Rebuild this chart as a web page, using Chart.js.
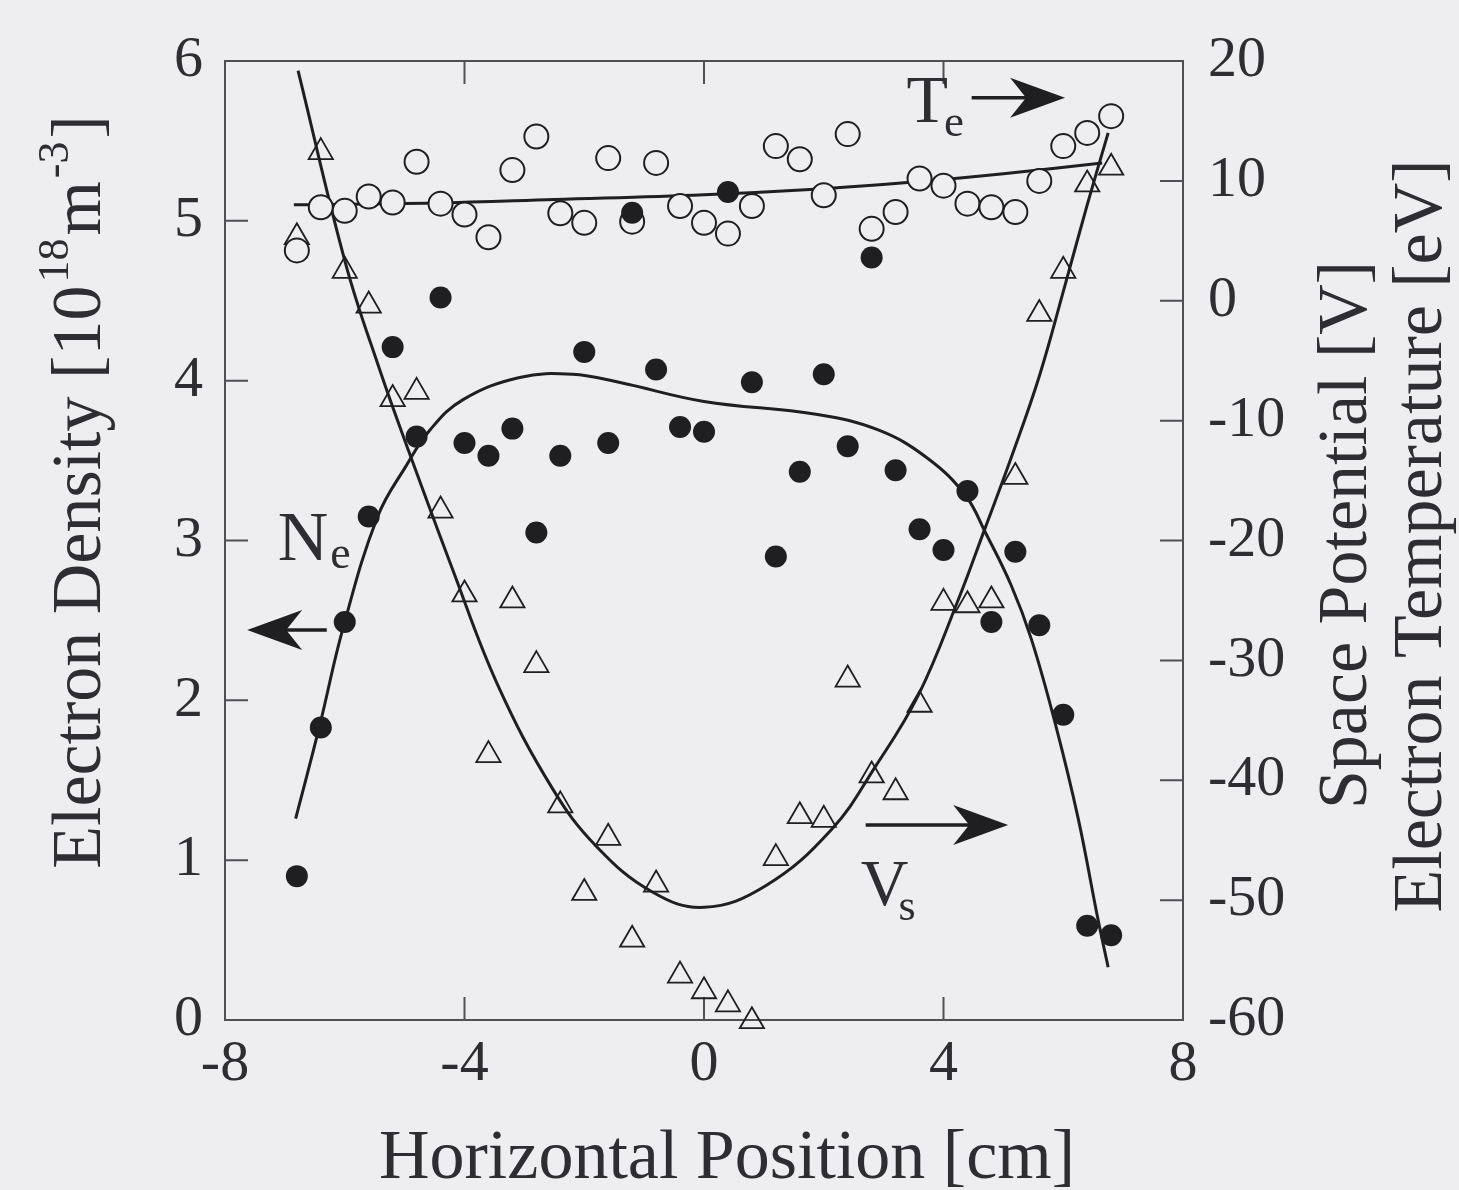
<!DOCTYPE html>
<html>
<head>
<meta charset="utf-8">
<title>Horizontal profiles</title>
<script src="https://cdn.jsdelivr.net/npm/chart.js@4.4.1/dist/chart.umd.min.js"></script>
<style>
html, body { margin: 0; padding: 0; background: #eeeef0; }
canvas { display: block; }
</style>
</head>
<body>
<canvas id="graphique" width="1459" height="1190"></canvas>
<script>
//measurement positions [cm]
var positions = [-6.8,-6.4,-6.0,-5.6,-5.2,-4.8,-4.4,-4.0,-3.6,-3.2,-2.8,-2.4,-2.0,-1.6,-1.2,-0.8,-0.4,0,
	0.4,0.8,1.2,1.6,2.0,2.4,2.8,3.2,3.6,4.0,4.4,4.8,5.2,5.6,6.0,6.4,6.8];

//electron density [10^18 m^-3] (filled circles, left axis)
var densite = [0.90,1.83,2.49,3.15,4.21,3.65,4.52,3.61,3.53,3.70,3.05,3.53,4.18,3.61,5.05,4.07,3.71,3.68,
	5.18,3.99,2.90,3.43,4.04,3.59,4.77,3.44,3.07,2.94,3.31,2.49,2.93,2.47,1.91,0.59,0.53];

//electron temperature [eV] (open circles, right axis)
var temperature = [4.2,7.8,7.5,8.7,8.2,11.6,8.1,7.2,5.3,10.9,13.7,7.3,6.5,11.9,6.6,11.5,7.9,6.5,
	5.6,7.9,12.9,11.8,8.8,13.9,6.0,7.4,10.2,9.6,8.1,7.8,7.4,10.0,12.9,14.0,15.4];

//space potential [V] (open triangles, right axis)
var potentiel = [5.3,12.4,2.5,-0.4,-8.2,-7.6,-17.5,-24.5,-37.9,-25.0,-30.4,-42.1,-49.4,-44.8,-53.3,-48.7,-56.3,-57.6,
	-58.7,-60.1,-46.5,-43.0,-43.3,-31.6,-39.6,-41.0,-33.7,-25.2,-25.4,-25.0,-14.7,-1.1,2.5,9.7,11.1];

//fitted curves
var ajustDensiteX = [-6.82,-6.42,-6.03,-5.45,-4.97,-4.58,-4.03,-3.08,-2.2,-1.42,0,1.87,2.92,3.75,4.37,4.70,5.13,5.47,5.87,6.25,6.58,6.75];
var ajustDensiteY = [1.26,1.84,2.45,3.15,3.47,3.69,3.88,4.02,4.04,3.99,3.87,3.79,3.69,3.51,3.28,3.05,2.72,2.38,1.85,1.26,0.63,0.33];

var ajustPotentielX = [-6.78,-5.98,-5.42,-4.95,-4.2,-3.45,-2.53,-1.8,-0.87,0,1.03,2.13,2.87,3.58,4.25,4.67,5.13,5.6,6.03,6.4,6.75];
var ajustPotentielY = [19.2,3.0,-5.7,-12.3,-22.4,-32.0,-40.7,-45.5,-49.3,-50.6,-48.8,-44.1,-38.8,-32.9,-24.9,-19.3,-13.1,-6.3,1.3,8.0,14.0];

var ajustTemperatureX = [-6.85,-4.5,-2.5,0,2.0,3.5,5.0,6.65];
var ajustTemperatureY = [8.0,8.15,8.45,8.85,9.35,9.9,10.6,11.5];

//axis ranges and steps
var axeX = {min: -8, max: 8, pas: 4};
var axeGauche = {min: 0, max: 6, pas: 1};
var axeDroite = {min: -60, max: 20, pas: 10};

//texts
var titreX = 'Horizontal Position [cm]';
var titreGauche = [['Electron Density [10', 0], ['18', 1], ['m', 0], ['-3', 1], [']', 0]];
var titreDroite1 = 'Space Potential [V]';
var titreDroite2 = 'Electron Temperature [eV]';

//curve labels and arrows (data coordinates, left axis)
var etiquettes = [
	{texte: 'T', indice: 'e', x: 3.38, y: 5.62, taille: 68, dx: -4, dy: 14},
	{texte: 'N', indice: 'e', x: -7.12, y: 2.88, taille: 70, dx: 2, dy: 8},
	{texte: 'V', indice: 's', x: 2.62, y: 0.72, taille: 66, dx: -10, dy: 15}
];
var fleches = [
	{de: 4.47, a: 6.03, y: 5.77},
	{de: -6.3, a: -7.63, y: 2.44},
	{de: 2.7, a: 5.08, y: 1.22}
];

var encre = '#1f1f22';
var texteCouleur = '#2e2e32';
var papier = '#eeeef0';
var police = '"Liberation Serif", "Times New Roman", serif';

function points(xs, ys){
	var tab = new Array(xs.length);
	for(let i = 0 ; i < xs.length ; i++){
		tab[i] = {x: xs[i], y: ys[i]};
	}
	return tab;
}

//arrow with a swept head, from x1 to x2 at height y (pixels)
function fleche(ctx, x1, x2, y){
	var sens = x2 > x1 ? 1 : -1;
	var longueur = 55, demi = 20, creux = 16;
	ctx.lineWidth = 3.5;
	ctx.beginPath();
	ctx.moveTo(x1, y);
	ctx.lineTo(x2 - sens*longueur*0.6, y);
	ctx.stroke();
	ctx.beginPath();
	ctx.moveTo(x2, y);
	ctx.lineTo(x2 - sens*longueur, y - demi);
	ctx.lineTo(x2 - sens*(longueur - creux), y);
	ctx.lineTo(x2 - sens*longueur, y + demi);
	ctx.closePath();
	ctx.fill();
}

var decor = {
	id: 'decor',
	beforeDraw: function(chart){
		var ctx = chart.ctx;
		ctx.save();
		ctx.fillStyle = papier;
		ctx.fillRect(0, 0, chart.width, chart.height);
		ctx.restore();
	},
	beforeDatasetsDraw: function(chart){
		var ctx = chart.ctx;
		var a = chart.chartArea;
		var sx = chart.scales.x, sy = chart.scales.y, sy2 = chart.scales.y2;
		var tick = 23;
		ctx.save();
		ctx.strokeStyle = '#505054';
		ctx.lineWidth = 2;
		ctx.strokeRect(a.left, a.top, a.right - a.left, a.bottom - a.top);
		ctx.beginPath();
		sx.ticks.forEach(function(t){
			if(t.value <= axeX.min || t.value >= axeX.max) return;
			var px = sx.getPixelForValue(t.value);
			ctx.moveTo(px, a.bottom); ctx.lineTo(px, a.bottom - tick);
			ctx.moveTo(px, a.top); ctx.lineTo(px, a.top + tick);
		});
		sy.ticks.forEach(function(t){
			if(t.value <= axeGauche.min || t.value >= axeGauche.max) return;
			var py = sy.getPixelForValue(t.value);
			ctx.moveTo(a.left, py); ctx.lineTo(a.left + tick, py);
		});
		sy2.ticks.forEach(function(t){
			if(t.value <= axeDroite.min || t.value >= axeDroite.max) return;
			var py = sy2.getPixelForValue(t.value);
			ctx.moveTo(a.right, py); ctx.lineTo(a.right - tick, py);
		});
		ctx.stroke();
		ctx.restore();
	},
	afterDraw: function(chart){
		var ctx = chart.ctx;
		var a = chart.chartArea;
		var sx = chart.scales.x, sy = chart.scales.y;
		ctx.save();
		ctx.fillStyle = texteCouleur;
		ctx.textBaseline = 'alphabetic';

		//bottom title
		ctx.font = '70px ' + police;
		ctx.textAlign = 'center';
		ctx.fillText(titreX, 727, 1178);

		//left title with superscripts
		ctx.save();
		ctx.translate(100, 492);
		ctx.rotate(-Math.PI/2);
		var total = 0;
		titreGauche.forEach(function(p){
			ctx.font = (p[1] ? '44px ' : '70px ') + police;
			total += ctx.measureText(p[0]).width + (p[1] ? 6 : 0);
		});
		var cx = -total/2;
		ctx.textAlign = 'left';
		titreGauche.forEach(function(p){
			ctx.font = (p[1] ? '44px ' : '70px ') + police;
			if(p[1]) cx += 3;
			ctx.fillText(p[0], cx, p[1] ? -32 : 0);
			cx += ctx.measureText(p[0]).width + (p[1] ? 3 : 0);
		});
		ctx.restore();

		//right titles
		ctx.font = '70px ' + police;
		ctx.textAlign = 'center';
		ctx.save();
		ctx.translate(1366, 535);
		ctx.rotate(-Math.PI/2);
		ctx.fillText(titreDroite1, 0, 0);
		ctx.restore();
		ctx.save();
		ctx.translate(1441, 536);
		ctx.rotate(-Math.PI/2);
		ctx.fillText(titreDroite2, 0, 0);
		ctx.restore();

		//curve labels
		ctx.textAlign = 'left';
		etiquettes.forEach(function(e){
			var px = sx.getPixelForValue(e.x), py = sy.getPixelForValue(e.y);
			ctx.font = e.taille + 'px ' + police;
			ctx.fillText(e.texte, px, py);
			var w = ctx.measureText(e.texte).width;
			ctx.font = Math.round(e.taille*0.66) + 'px ' + police;
			ctx.fillText(e.indice, px + w + e.dx, py + e.dy);
		});

		//arrows
		ctx.fillStyle = encre;
		ctx.strokeStyle = encre;
		fleches.forEach(function(f){
			fleche(ctx, sx.getPixelForValue(f.de), sx.getPixelForValue(f.a), sy.getPixelForValue(f.y));
		});
		ctx.restore();
	}
};

function Start(){
	var ticksFont = {family: police, size: 58};

	var datasets = [
		{label: 'Ne fit', type: 'line', data: points(ajustDensiteX, ajustDensiteY), yAxisID: 'y',
			borderColor: encre, borderWidth: 3, pointRadius: 0, tension: 0.4, fill: false, order: 3},
		{label: 'Vs fit', type: 'line', data: points(ajustPotentielX, ajustPotentielY), yAxisID: 'y2',
			borderColor: encre, borderWidth: 3, pointRadius: 0, tension: 0.4, fill: false, order: 3},
		{label: 'Te fit', type: 'line', data: points(ajustTemperatureX, ajustTemperatureY), yAxisID: 'y2',
			borderColor: encre, borderWidth: 3, pointRadius: 0, tension: 0.4, fill: false, order: 3},
		{label: 'Vs', data: points(positions, potentiel), yAxisID: 'y2', pointStyle: 'triangle', pointRadius: 14,
			borderColor: encre, borderWidth: 1.8, backgroundColor: 'rgba(0,0,0,0)', clip: false, order: 2},
		{label: 'Te', data: points(positions, temperature), yAxisID: 'y2', pointStyle: 'circle', pointRadius: 12,
			borderColor: encre, borderWidth: 2, backgroundColor: papier, clip: false, order: 1},
		{label: 'Ne', data: points(positions, densite), yAxisID: 'y', pointStyle: 'circle', pointRadius: 11,
			borderColor: encre, borderWidth: 0, backgroundColor: encre, clip: false, order: 0}
	];

	var config = {
		type: 'scatter',
		data: {datasets: datasets},
		options: {
			responsive: false,
			animation: false,
			devicePixelRatio: 1,
			layout: {padding: {top: 61, left: 0, right: 0, bottom: 0}},
			plugins: {legend: {display: false}, tooltip: {enabled: false}},
			scales: {
				x: {
					type: 'linear', min: axeX.min, max: axeX.max,
					ticks: {stepSize: axeX.pas, font: ticksFont, color: texteCouleur, padding: 10, maxRotation: 0},
					grid: {display: false, drawTicks: false}, border: {display: false},
					afterFit: function(s){ s.height = 170; }
				},
				y: {
					type: 'linear', position: 'left', min: axeGauche.min, max: axeGauche.max,
					ticks: {stepSize: axeGauche.pas, font: ticksFont, color: texteCouleur, padding: 22},
					grid: {display: false, drawTicks: false}, border: {display: false},
					afterFit: function(s){ s.width = 225; }
				},
				y2: {
					type: 'linear', position: 'right', min: axeDroite.min, max: axeDroite.max,
					ticks: {stepSize: axeDroite.pas, font: ticksFont, color: texteCouleur, padding: 25},
					grid: {display: false, drawTicks: false}, border: {display: false},
					afterFit: function(s){ s.width = 276; }
				}
			}
		},
		plugins: [decor]
	};

	var ctx = document.getElementById('graphique').getContext('2d');
	var graph = new Chart(ctx, config);
}

Start();
</script>
</body>
</html>
